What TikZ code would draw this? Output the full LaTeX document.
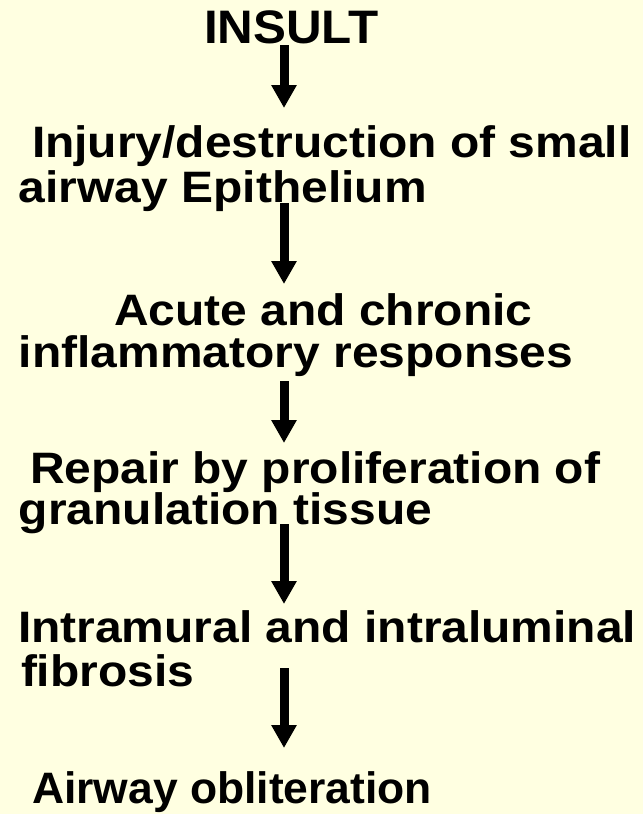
\documentclass[tikz,border=0pt]{standalone}
\usepackage{fontspec}
\setmainfont{Liberation Sans}
\usetikzlibrary{arrows.meta}
\definecolor{bgcream}{RGB}{255,255,225}
\newcommand\stretchtxt[2]{\scalebox{#1}[1]{#2}}
\tikzset{
  lbl/.style={anchor=base west, inner sep=0pt, outer sep=0pt, font=\fontsize{44}{44}\selectfont\bfseries, text=black},
  ttl/.style={anchor=base west, inner sep=0pt, outer sep=0pt, font=\fontsize{47}{47}\selectfont\bfseries, text=black},
  flow/.style={line width=9pt, black, -{Triangle[width=24pt,length=23pt]}}
}
\begin{document}
\begin{tikzpicture}[x=1pt,y=-1pt]
\fill[bgcream] (0,0) rectangle (643,814);
\useasboundingbox (0,0) rectangle (643,814);
\node[ttl] (insult) at (204,43) {\stretchtxt{1.05}{INSULT}};
\node[lbl] (s1a) at (32,157) {\stretchtxt{1.09}{Injury/destruction of small}};
\node[lbl] (s1b) at (19,202) {\stretchtxt{1.09}{airway Epithelium}};
\node[lbl] (s2a) at (114,325) {\stretchtxt{1.09}{Acute and chronic}};
\node[lbl] (s2b) at (19,367) {\stretchtxt{1.09}{inflammatory responses}};
\node[lbl] (s3a) at (30,483) {\stretchtxt{1.09}{Repair by proliferation of}};
\node[lbl] (s3b) at (19,524) {\stretchtxt{1.09}{granulation tissue}};
\node[lbl] (s4a) at (18,642) {\stretchtxt{1.09}{Intramural and intraluminal}};
\node[lbl] (s4b) at (21,686) {\stretchtxt{1.09}{fibrosis}};
\node[lbl] (s5) at (32,803) {\stretchtxt{1.01}{Airway obliteration}};
\coordinate (a1s) at (284,45);  \coordinate (a1e) at (284,108);
\coordinate (a2s) at (284,203); \coordinate (a2e) at (284,284);
\coordinate (a3s) at (284,381); \coordinate (a3e) at (284,443);
\coordinate (a4s) at (284,524); \coordinate (a4e) at (284,604);
\coordinate (a5s) at (284,668); \coordinate (a5e) at (284,748);
\draw[flow] (a1s) -- (a1e);
\draw[flow] (a2s) -- (a2e);
\draw[flow] (a3s) -- (a3e);
\draw[flow] (a4s) -- (a4e);
\draw[flow] (a5s) -- (a5e);
\end{tikzpicture}
\end{document}
